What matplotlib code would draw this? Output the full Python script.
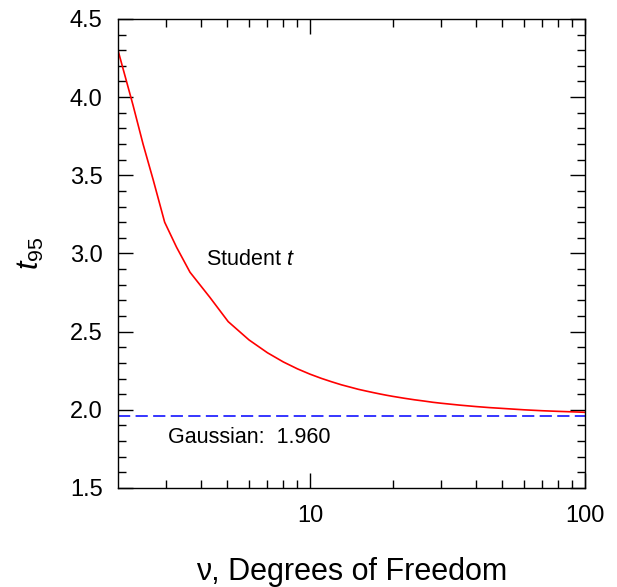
import matplotlib
matplotlib.use("Agg")
import matplotlib.pyplot as plt
from matplotlib.ticker import FixedLocator, NullFormatter

plt.rcParams['font.family'] = ['Liberation Sans', 'DejaVu Sans']
plt.rcParams['mathtext.fontset'] = 'custom'
plt.rcParams['mathtext.rm'] = 'Liberation Sans'
plt.rcParams['mathtext.it'] = 'Liberation Sans:italic'

# degrees of freedom and two-sided 95% t values
nu = [2, 2.27, 2.47, 2.69, 2.96, 3.27, 3.66, 4.32, 5.04, 6, 7, 8, 9, 10,
      11, 12, 13, 14, 15, 16, 17, 18, 19, 20, 22, 24, 26, 28, 30,
      35, 40, 45, 50, 60, 70, 80, 90, 100]
t95 = [4.303, 3.95, 3.70, 3.47, 3.20, 3.04, 2.88, 2.72, 2.564, 2.447,
       2.365, 2.306, 2.262, 2.228, 2.201, 2.179, 2.160, 2.145, 2.131, 2.120,
       2.110, 2.101, 2.093, 2.086, 2.074, 2.064, 2.056, 2.048, 2.042,
       2.030, 2.021, 2.014, 2.009, 2.000, 1.994, 1.990, 1.987, 1.984]
gauss = 1.960

fig = plt.figure(figsize=(6.17, 5.87), dpi=100)
ax = fig.add_axes([0.191, 0.1687, 0.757, 0.799])

ax.plot(nu, t95, color='#ff0000', lw=1.2)
ax.plot([2, 100], [gauss, gauss], color='#0000ff', lw=1.1, dashes=(8, 3.5))

ax.set_xscale('log')
ax.set_xlim(2, 100)
ax.set_ylim(1.5, 4.5)

ax.xaxis.set_major_locator(FixedLocator([10, 100]))
ax.xaxis.set_minor_locator(FixedLocator([3, 4, 5, 6, 7, 8, 9, 20, 30, 40, 50, 60, 70, 80, 90]))
ax.xaxis.set_minor_formatter(NullFormatter())
ax.set_xticklabels(['10', '100'])
ax.set_yticks([1.5, 2.0, 2.5, 3.0, 3.5, 4.0, 4.5])
ax.set_yticks([1.5 + 0.1 * i for i in range(31)], minor=True)
ax.set_yticklabels(['1.5', '2.0', '2.5', '3.0', '3.5', '4.0', '4.5'])

ax.tick_params(which='both', direction='in', top=True, right=True, width=1, labelsize=17)
ax.tick_params(which='major', length=11)
ax.tick_params(which='minor', length=6)
ax.tick_params(axis='x', pad=12)
ax.tick_params(axis='y', pad=11)
for s in ax.spines.values():
    s.set_linewidth(1)

ax.set_xlabel('ν, Degrees of Freedom', fontsize=22, labelpad=22)
ax.set_ylabel(r'$\mathit{t}_{95}$', fontsize=22, labelpad=17)

ax.text(4.2, 2.96, 'Student $\\mathit{t}$', fontsize=15.5, va='center')
ax.text(3.04, 1.82, 'Gaussian:  1.960', fontsize=15.5, va='center')

fig.savefig('out.png', dpi=100)
